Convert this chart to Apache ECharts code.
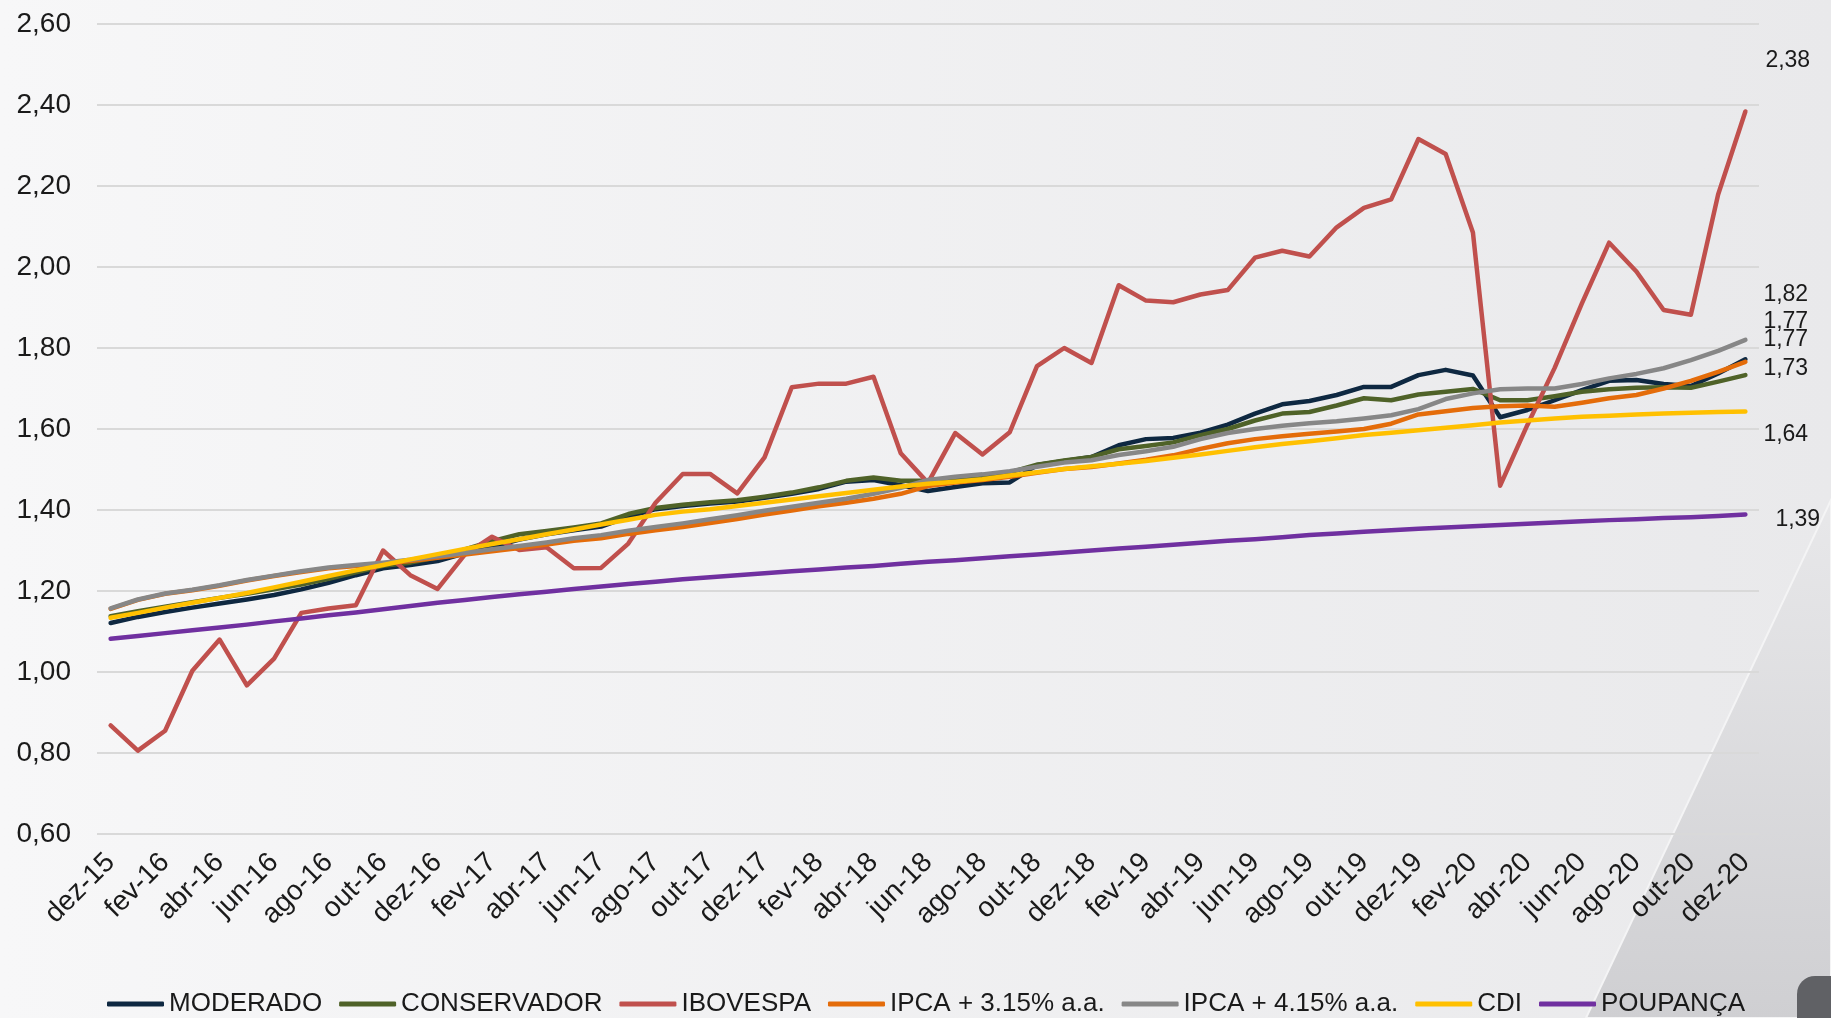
<!DOCTYPE html>
<html>
<head>
<meta charset="utf-8">
<script src="https://cdn.jsdelivr.net/npm/echarts@6/dist/echarts.min.js"></script>
<style>
  html, body { margin: 0; padding: 0; }
  #chart { width: 1831px; height: 1018px; }
</style>
</head>
<body>
<div id="chart"></div>
<script>
var meses = ['jan', 'fev', 'mar', 'abr', 'mai', 'jun', 'jul', 'ago', 'set', 'out', 'nov', 'dez'];
var categorias = ['dez-15'];
for (var a = 16; a <= 20; a++) {
  for (var m = 0; m < 12; m++) categorias.push(meses[m] + '-' + a);
}

var moderado = [1.121, 1.136, 1.148, 1.159, 1.169, 1.179, 1.190, 1.204, 1.220, 1.239, 1.256, 1.264, 1.274, 1.293, 1.309, 1.327, 1.340, 1.350, 1.359, 1.383, 1.402, 1.410, 1.416, 1.421, 1.430, 1.440, 1.452, 1.470, 1.474, 1.461, 1.447, 1.457, 1.466, 1.468, 1.511, 1.521, 1.531, 1.560, 1.575, 1.578, 1.591, 1.611, 1.638, 1.661, 1.669, 1.684, 1.704, 1.704, 1.733, 1.746, 1.732, 1.629, 1.647, 1.671, 1.696, 1.719, 1.721, 1.711, 1.706, 1.737, 1.772];
var conservador = [1.138, 1.150, 1.161, 1.172, 1.183, 1.193, 1.204, 1.216, 1.230, 1.246, 1.262, 1.270, 1.283, 1.303, 1.323, 1.340, 1.348, 1.357, 1.367, 1.390, 1.405, 1.413, 1.419, 1.424, 1.433, 1.443, 1.456, 1.472, 1.480, 1.472, 1.472, 1.476, 1.482, 1.493, 1.512, 1.522, 1.531, 1.550, 1.558, 1.567, 1.585, 1.600, 1.621, 1.638, 1.642, 1.658, 1.676, 1.671, 1.685, 1.692, 1.699, 1.671, 1.671, 1.681, 1.692, 1.698, 1.702, 1.703, 1.702, 1.717, 1.733];
var ibovespa = [0.868, 0.806, 0.855, 1.003, 1.080, 0.967, 1.033, 1.146, 1.157, 1.165, 1.300, 1.239, 1.205, 1.290, 1.334, 1.301, 1.308, 1.256, 1.257, 1.317, 1.418, 1.489, 1.489, 1.441, 1.530, 1.703, 1.712, 1.712, 1.729, 1.540, 1.467, 1.590, 1.537, 1.592, 1.755, 1.800, 1.763, 1.955, 1.917, 1.913, 1.932, 1.943, 2.023, 2.040, 2.026, 2.098, 2.146, 2.167, 2.316, 2.279, 2.085, 1.460, 1.610, 1.751, 1.910, 2.060, 1.989, 1.894, 1.882, 2.179, 2.384];
var ipca315 = [1.156, 1.178, 1.193, 1.202, 1.213, 1.226, 1.237, 1.247, 1.256, 1.262, 1.268, 1.274, 1.282, 1.290, 1.298, 1.306, 1.315, 1.324, 1.330, 1.341, 1.350, 1.358, 1.368, 1.378, 1.389, 1.399, 1.409, 1.418, 1.428, 1.440, 1.459, 1.468, 1.474, 1.482, 1.492, 1.501, 1.506, 1.515, 1.524, 1.535, 1.551, 1.565, 1.575, 1.582, 1.588, 1.594, 1.600, 1.613, 1.636, 1.644, 1.652, 1.656, 1.658, 1.655, 1.665, 1.676, 1.684, 1.700, 1.719, 1.741, 1.766];
var ipca415 = [1.157, 1.179, 1.194, 1.203, 1.214, 1.227, 1.238, 1.249, 1.258, 1.264, 1.270, 1.277, 1.286, 1.294, 1.303, 1.311, 1.320, 1.330, 1.338, 1.349, 1.358, 1.367, 1.377, 1.387, 1.398, 1.408, 1.418, 1.428, 1.440, 1.455, 1.474, 1.482, 1.488, 1.496, 1.507, 1.517, 1.523, 1.536, 1.545, 1.556, 1.575, 1.590, 1.600, 1.608, 1.614, 1.619, 1.626, 1.634, 1.649, 1.674, 1.688, 1.698, 1.700, 1.700, 1.711, 1.725, 1.736, 1.750, 1.770, 1.793, 1.820];
var cdi = [1.134, 1.146, 1.159, 1.171, 1.183, 1.195, 1.209, 1.223, 1.237, 1.251, 1.264, 1.278, 1.291, 1.304, 1.316, 1.328, 1.340, 1.352, 1.364, 1.376, 1.388, 1.396, 1.402, 1.410, 1.418, 1.426, 1.434, 1.442, 1.450, 1.458, 1.465, 1.470, 1.476, 1.485, 1.493, 1.501, 1.508, 1.514, 1.521, 1.529, 1.537, 1.546, 1.555, 1.563, 1.570, 1.577, 1.585, 1.591, 1.597, 1.603, 1.609, 1.616, 1.621, 1.626, 1.630, 1.633, 1.636, 1.638, 1.640, 1.642, 1.643];
var poupanca = [1.082, 1.089, 1.096, 1.103, 1.110, 1.117, 1.125, 1.132, 1.140, 1.147, 1.155, 1.163, 1.171, 1.178, 1.185, 1.192, 1.198, 1.205, 1.211, 1.217, 1.223, 1.229, 1.234, 1.239, 1.244, 1.249, 1.253, 1.258, 1.262, 1.267, 1.272, 1.276, 1.281, 1.286, 1.290, 1.295, 1.300, 1.305, 1.309, 1.314, 1.319, 1.324, 1.328, 1.333, 1.338, 1.342, 1.346, 1.350, 1.354, 1.357, 1.360, 1.363, 1.366, 1.369, 1.372, 1.375, 1.377, 1.380, 1.382, 1.385, 1.389];

var fonte = '"Liberation Sans", Arial, sans-serif';

function virgula(v) {
  return v.toFixed(2).replace('.', ',');
}

// deslocamento do rótulo final de cada curva
function serie(nome, dados, cor, dx, dy) {
  return {
    name: nome,
    type: 'line',
    data: dados,
    symbol: 'none',
    lineStyle: { width: 4.5, color: cor, cap: 'round', join: 'round' },
    itemStyle: { color: cor },
    endLabel: {
      show: true,
      offset: [dx, dy],
      color: '#1a1a1a',
      fontSize: 23,
      fontFamily: fonte,
      formatter: function (p) { return virgula(p.value); }
    }
  };
}

var chart = echarts.init(document.getElementById('chart'));
chart.setOption({
  animation: false,
  backgroundColor: {
    type: 'linear', x: 0, y: 0, x2: 1, y2: 0,
    colorStops: [{ offset: 0, color: '#f7f7f8' }, { offset: 1, color: '#e9e9eb' }]
  },
  graphic: [
    {
      type: 'polygon', z: -10, silent: true,
      shape: { points: [[1831, 500], [1586, 1018], [1831, 1018]] },
      style: {
        fill: {
          type: 'linear', x: 0, y: 0, x2: 0, y2: 1,
          colorStops: [{ offset: 0, color: '#e8e8ea' }, { offset: 1, color: '#cfcfd2' }]
        },
        stroke: '#f4f4f5', lineWidth: 2
      }
    },
    {
      type: 'rect', z: -5, silent: true,
      shape: { x: 1797, y: 976, width: 60, height: 70, r: 18 },
      style: { fill: '#606165' }
    }
  ],
  grid: { left: 97, right: 72, top: 24, bottom: 184 },
  legend: {
    left: 102,
    bottom: -4,
    icon: 'roundRect',
    itemWidth: 57,
    itemHeight: 5,
    itemGap: 17,
    textStyle: { fontSize: 26, color: '#1a1a1a', fontFamily: fonte },
    data: ['MODERADO', 'CONSERVADOR', 'IBOVESPA', 'IPCA + 3.15% a.a.', 'IPCA + 4.15% a.a.', 'CDI', 'POUPANÇA']
  },
  xAxis: {
    type: 'category',
    data: categorias,
    boundaryGap: true,
    axisLine: { show: false },
    axisTick: { show: false },
    axisLabel: {
      interval: 1,
      rotate: 45,
      margin: 24,
      fontSize: 28,
      color: '#1a1a1a',
      fontFamily: fonte
    }
  },
  yAxis: {
    type: 'value',
    min: 0.6,
    max: 2.6,
    interval: 0.2,
    axisLine: { show: false },
    axisTick: { show: false },
    splitLine: { lineStyle: { color: '#d9d9d9', width: 2 } },
    axisLabel: {
      margin: 26,
      fontSize: 28,
      color: '#1a1a1a',
      fontFamily: fonte,
      formatter: function (v) { return virgula(v); }
    }
  },
  series: [
    serie('MODERADO', moderado, '#0e2841', 10, -38),
    serie('CONSERVADOR', conservador, '#4f6228', 10, -6),
    serie('IBOVESPA', ibovespa, '#c0504d', 12, -51),
    serie('IPCA + 3.15% a.a.', ipca315, '#e46c0a', 10, -22),
    serie('IPCA + 4.15% a.a.', ipca415, '#878787', 10, -45),
    serie('CDI', cdi, '#ffc000', 10, 23),
    serie('POUPANÇA', poupanca, '#7030a0', 22, 5)
  ]
});
</script>
</body>
</html>
